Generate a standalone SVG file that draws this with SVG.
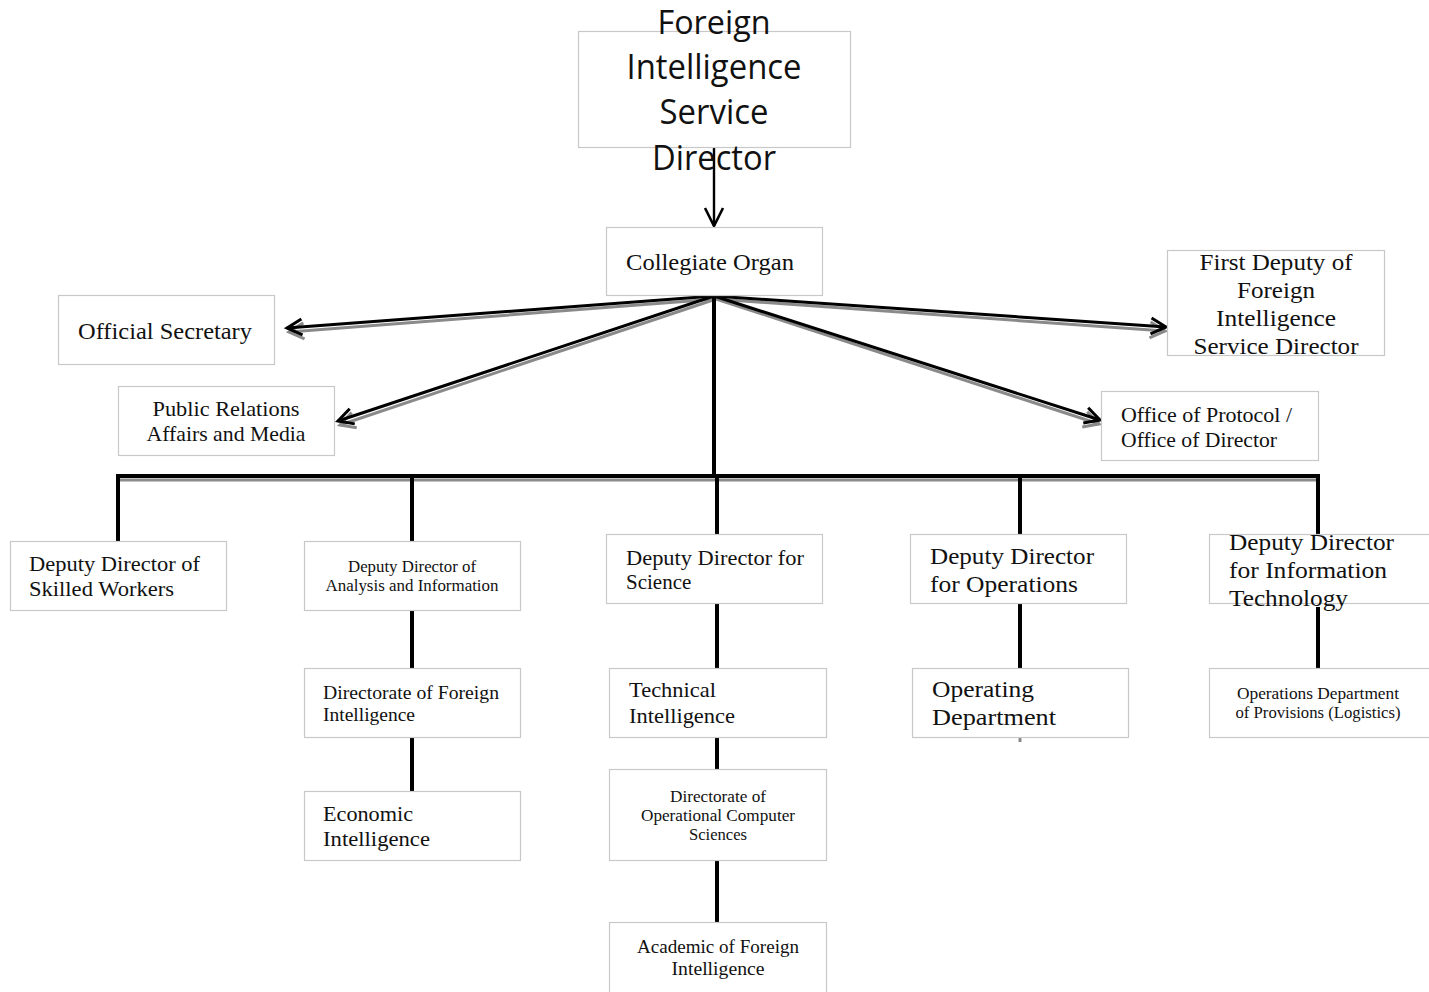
<svg xmlns="http://www.w3.org/2000/svg" width="1429" height="992" viewBox="0 0 1429 992">
<defs>
<style>
.box{fill:#fff;stroke:#c8c8c8;stroke-width:1.2}
.t{font-family:"Liberation Serif","DejaVu Serif",serif;fill:#111}
.ts{font-family:"Open Sans","Liberation Sans",sans-serif;fill:#111;font-size:34px;text-anchor:middle}
.c{text-anchor:middle}
.ln{stroke:#000;stroke-width:4;fill:none}
.ar{stroke:#000;stroke-width:3;fill:none}
.sh{stroke:#8a8a8a;stroke-width:3;fill:none}
</style>
<marker id="ah" markerUnits="userSpaceOnUse" viewBox="-2 -10 20 20" refX="15" refY="0" markerWidth="20" markerHeight="20" orient="auto">
<path d="M0,-8 L15,0 L0,8" fill="none" stroke="#000" stroke-width="3"/>
</marker>
<marker id="ahg" markerUnits="userSpaceOnUse" viewBox="-2 -10 20 20" refX="15" refY="0" markerWidth="20" markerHeight="20" orient="auto">
<path d="M0,-8 L15,0 L0,8" fill="none" stroke="#8a8a8a" stroke-width="3"/>
</marker>
<marker id="ahd" markerUnits="userSpaceOnUse" viewBox="-2 -12 22 24" refX="18" refY="0" markerWidth="22" markerHeight="24" orient="auto">
<path d="M0,-9 L18,0 L0,9" fill="none" stroke="#000" stroke-width="2.6"/>
</marker>
</defs>

<g id="connectors">
<line x1="714" y1="146" x2="714" y2="226" stroke="#000" stroke-width="2.4" marker-end="url(#ahd)"/>
<line class="sh" x1="716" y1="299" x2="289" y2="332" marker-end="url(#ahg)"/>
<line class="sh" x1="716" y1="299" x2="340" y2="425" marker-end="url(#ahg)"/>
<line class="sh" x1="716" y1="299" x2="1165" y2="331" marker-end="url(#ahg)"/>
<line class="sh" x1="716" y1="299" x2="1099" y2="424" marker-end="url(#ahg)"/>
<line class="ar" x1="714" y1="296" x2="287" y2="328" marker-end="url(#ah)"/>
<line class="ar" x1="714" y1="296" x2="338" y2="421" marker-end="url(#ah)"/>
<line class="ar" x1="714" y1="296" x2="1166" y2="327" marker-end="url(#ah)"/>
<line class="ar" x1="714" y1="296" x2="1100" y2="420" marker-end="url(#ah)"/>
<line x1="118" y1="480" x2="1318" y2="480" stroke="#8a8a8a" stroke-width="3"/>
<line class="ln" x1="714" y1="296" x2="714" y2="476"/>
<line class="ln" x1="116" y1="476" x2="1320" y2="476"/>
<line class="ln" x1="118" y1="474" x2="118" y2="541"/>
<line class="ln" x1="412" y1="474" x2="412" y2="541"/>
<line class="ln" x1="717" y1="474" x2="717" y2="534"/>
<line class="ln" x1="1020" y1="474" x2="1020" y2="534"/>
<line class="ln" x1="1318" y1="474" x2="1318" y2="534"/>
<line class="ln" x1="412" y1="610" x2="412" y2="668"/>
<line class="ln" x1="412" y1="737" x2="412" y2="791"/>
<line class="ln" x1="717" y1="603" x2="717" y2="668"/>
<line class="ln" x1="717" y1="737" x2="717" y2="769"/>
<line class="ln" x1="717" y1="860" x2="717" y2="922"/>
<line class="ln" x1="1020" y1="603" x2="1020" y2="668"/>
<line class="ln" x1="1318" y1="607" x2="1318" y2="668"/>
<line x1="1020" y1="737" x2="1020" y2="742" stroke="#888" stroke-width="3"/>
</g>

<g id="director">
<rect class="box" x="578.5" y="31.5" width="272" height="116"/>
<text class="ts" x="714" y="34" font-size="32" style="font-size:32px" textLength="113" lengthAdjust="spacingAndGlyphs">Foreign</text>
<text class="ts" x="714" y="79" textLength="175" lengthAdjust="spacingAndGlyphs">Intelligence</text>
<text class="ts" x="714" y="124" textLength="109" lengthAdjust="spacingAndGlyphs">Service</text>
<text class="ts" x="714" y="170" textLength="124" lengthAdjust="spacingAndGlyphs">Director</text>
</g>

<g id="collegiate">
<rect class="box" x="606.5" y="227.5" width="216" height="68"/>
<text class="t" x="626" y="270" font-size="23" textLength="168" lengthAdjust="spacingAndGlyphs">Collegiate Organ</text>
</g>

<g id="official-secretary">
<rect class="box" x="58.5" y="295.5" width="216" height="69"/>
<text class="t" x="78" y="339" font-size="24" textLength="174" lengthAdjust="spacingAndGlyphs">Official Secretary</text>
</g>

<g id="public-relations">
<rect class="box" x="118.5" y="386.5" width="216" height="69"/>
<text class="t c" x="226" y="416" font-size="21" textLength="147" lengthAdjust="spacingAndGlyphs">Public Relations</text>
<text class="t c" x="226" y="441" font-size="21" textLength="159" lengthAdjust="spacingAndGlyphs">Affairs and Media</text>
</g>

<g id="first-deputy">
<rect class="box" x="1167.5" y="250.5" width="217" height="105"/>
<text class="t c" x="1276" y="270" font-size="23" textLength="153" lengthAdjust="spacingAndGlyphs">First Deputy of</text>
<text class="t c" x="1276" y="298" font-size="23" textLength="78" lengthAdjust="spacingAndGlyphs">Foreign</text>
<text class="t c" x="1276" y="326" font-size="23" textLength="120" lengthAdjust="spacingAndGlyphs">Intelligence</text>
<text class="t c" x="1276" y="354" font-size="23" textLength="165" lengthAdjust="spacingAndGlyphs">Service Director</text>
</g>

<g id="office-protocol">
<rect class="box" x="1101.5" y="391.5" width="217" height="69"/>
<text class="t" x="1121" y="422" font-size="21" textLength="171" lengthAdjust="spacingAndGlyphs">Office of Protocol /</text>
<text class="t" x="1121" y="447" font-size="21" textLength="156" lengthAdjust="spacingAndGlyphs">Office of Director</text>
</g>

<g id="dd-skilled">
<rect class="box" x="10.5" y="541.5" width="216" height="69"/>
<text class="t" x="29" y="571" font-size="22" textLength="171" lengthAdjust="spacingAndGlyphs">Deputy Director of</text>
<text class="t" x="29" y="596" font-size="22" textLength="145" lengthAdjust="spacingAndGlyphs">Skilled Workers</text>
</g>

<g id="dd-analysis">
<rect class="box" x="304.5" y="541.5" width="216" height="69"/>
<text class="t c" x="412" y="572" font-size="16" textLength="128" lengthAdjust="spacingAndGlyphs">Deputy Director of</text>
<text class="t c" x="412" y="591" font-size="16" textLength="173" lengthAdjust="spacingAndGlyphs">Analysis and Information</text>
</g>

<g id="dd-science">
<rect class="box" x="606.5" y="534.5" width="216" height="69"/>
<text class="t" x="626" y="565" font-size="21" textLength="178" lengthAdjust="spacingAndGlyphs">Deputy Director for</text>
<text class="t" x="626" y="589" font-size="21">Science</text>
</g>

<g id="dd-operations">
<rect class="box" x="910.5" y="534.5" width="216" height="69"/>
<text class="t" x="930" y="564" font-size="24" textLength="164" lengthAdjust="spacingAndGlyphs">Deputy Director</text>
<text class="t" x="930" y="592" font-size="24" textLength="148" lengthAdjust="spacingAndGlyphs">for Operations</text>
</g>

<g id="dd-it">
<rect class="box" x="1209.5" y="534.5" width="230" height="69"/>
<text class="t" x="1229" y="550" font-size="24" textLength="165" lengthAdjust="spacingAndGlyphs">Deputy Director</text>
<text class="t" x="1229" y="578" font-size="24" textLength="158" lengthAdjust="spacingAndGlyphs">for Information</text>
<text class="t" x="1229" y="606" font-size="24" textLength="119" lengthAdjust="spacingAndGlyphs">Technology</text>
</g>

<g id="dir-foreign-intel">
<rect class="box" x="304.5" y="668.5" width="216" height="69"/>
<text class="t" x="323" y="699" font-size="19" textLength="176" lengthAdjust="spacingAndGlyphs">Directorate of Foreign</text>
<text class="t" x="323" y="721" font-size="19" textLength="92" lengthAdjust="spacingAndGlyphs">Intelligence</text>
</g>

<g id="economic-intel">
<rect class="box" x="304.5" y="791.5" width="216" height="69"/>
<text class="t" x="323" y="821" font-size="22" textLength="90" lengthAdjust="spacingAndGlyphs">Economic</text>
<text class="t" x="323" y="846" font-size="22" textLength="107" lengthAdjust="spacingAndGlyphs">Intelligence</text>
</g>

<g id="technical-intel">
<rect class="box" x="609.5" y="668.5" width="217" height="69"/>
<text class="t" x="629" y="697" font-size="22" textLength="87" lengthAdjust="spacingAndGlyphs">Technical</text>
<text class="t" x="629" y="723" font-size="22" textLength="106" lengthAdjust="spacingAndGlyphs">Intelligence</text>
</g>

<g id="dir-op-computer">
<rect class="box" x="609.5" y="769.5" width="217" height="91"/>
<text class="t c" x="718" y="802" font-size="16" textLength="96" lengthAdjust="spacingAndGlyphs">Directorate of</text>
<text class="t c" x="718" y="821" font-size="16" textLength="154" lengthAdjust="spacingAndGlyphs">Operational Computer</text>
<text class="t c" x="718" y="840" font-size="16" textLength="58" lengthAdjust="spacingAndGlyphs">Sciences</text>
</g>

<g id="academic">
<rect class="box" x="609.5" y="922.5" width="217" height="75"/>
<text class="t c" x="718" y="953" font-size="19" textLength="162" lengthAdjust="spacingAndGlyphs">Academic of Foreign</text>
<text class="t c" x="718" y="975" font-size="19" textLength="93" lengthAdjust="spacingAndGlyphs">Intelligence</text>
</g>

<g id="operating-dept">
<rect class="box" x="912.5" y="668.5" width="216" height="69"/>
<text class="t" x="932" y="697" font-size="24" textLength="102" lengthAdjust="spacingAndGlyphs">Operating</text>
<text class="t" x="932" y="725" font-size="24" textLength="124" lengthAdjust="spacingAndGlyphs">Department</text>
</g>

<g id="provisions">
<rect class="box" x="1209.5" y="668.5" width="230" height="69"/>
<text class="t c" x="1318" y="699" font-size="16" textLength="162" lengthAdjust="spacingAndGlyphs">Operations Department</text>
<text class="t c" x="1318" y="718" font-size="16" textLength="165" lengthAdjust="spacingAndGlyphs">of Provisions (Logistics)</text>
</g>
</svg>
